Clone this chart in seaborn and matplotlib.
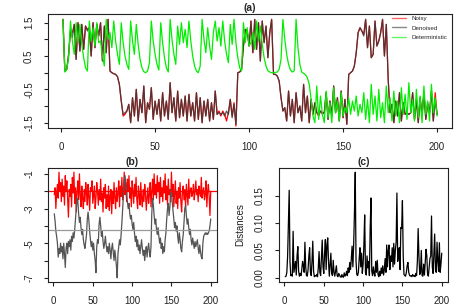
import numpy as np
import matplotlib
matplotlib.use("Agg")
import matplotlib.pyplot as plt
import seaborn as sns

# ─── data ──────────────────────────────────────────────────────────────────
t = np.arange(1, 201)

denoised = [
    1.60, 0.05, 0.10, 0.55, 1.30, 1.05, 1.45, 0.40, 1.50, 0.65,
    1.45, 0.70, 1.40, 1.25, 1.35, 0.50, 1.50, 0.75, 1.45, 1.10,
    1.50, 0.35, 1.40, 0.60, 1.60, 0.05, 0.00, -0.03, -0.05, -0.12,
    -0.35, -0.85, -1.25, -1.20, -1.15, -0.95, -1.50, -0.75, -1.30, -0.50,
    -1.45, -0.80, -1.20, -0.40, -1.50, -0.90, -1.10, -0.45, -1.40, -0.85,
    -1.25, -0.80, -1.45, -0.60, -1.30, -0.85, -1.40, -0.30, -1.20, -0.75,
    -1.45, -0.55, -1.35, -0.80, -1.30, -0.70, -1.45, -0.65, -1.30, -0.90,
    -1.45, -0.60, -1.40, -0.75, -1.50, -0.85, -1.30, -0.80, -1.45, -0.90,
    -1.40, -0.55, -1.25, -1.20, -1.25, -1.20, -1.30, -1.15, -1.25, -0.80,
    -1.35, -0.95, -1.55, 0.00, 0.02, 0.10, 0.80, 1.30, 1.25, 0.80,
    1.55, 0.60, 1.60, 0.70, 1.50, 0.35, 1.55, 0.90, 1.40, 0.45,
    1.20, 1.60, -0.05, -0.05, -0.10, -0.25, -0.75, -1.15, -1.05, -1.45,
    -0.55, -1.30, -0.80, -1.50, -0.60, -1.20, -1.00, -1.45, -0.35, -1.20,
    -0.70, -1.50, -0.80, -1.25, -0.90, -1.20, -1.25, -1.15, -1.25, -1.20,
    -0.60, -1.40, -0.85, -1.30, -0.40, -1.20, -0.75, -1.45, -0.55, -1.35,
    -0.80, -1.55, -0.05, 0.00, 0.05, 0.20, 0.60, 1.20, 1.35, 1.25,
    1.10, 1.60, 0.75, 1.40, 0.45, 0.55, 1.55, 0.80, 0.95, 1.20,
    1.60, 0.50, 1.45, -0.20, -1.20, -0.95, -1.50, -0.85, -1.30, -0.60,
    -1.45, -0.90, -1.25, -1.20, -1.25, -1.20, -0.60, -1.40, -0.80, -1.50,
    -0.75, -1.30, -0.60, -1.40, -0.90, -1.20, -0.55, -1.45, -0.85, -1.25,
]

noisy = [
    1.60, 0.05, 0.10, 0.55, 1.25, 1.20, 1.45, 0.40, 1.50, 0.65,
    1.45, 0.70, 1.40, 1.30, 1.35, 0.50, 1.50, 0.75, 1.45, 1.10,
    1.50, 0.35, 1.40, 0.60, 1.60, 0.05, 0.00, -0.03, -0.05, -0.12,
    -0.35, -0.85, -1.30, -1.25, -1.15, -0.95, -1.50, -0.75, -1.30, -0.50,
    -1.45, -0.80, -1.20, -0.40, -1.50, -0.90, -1.10, -0.45, -1.40, -0.85,
    -1.25, -0.80, -1.45, -0.60, -1.30, -0.85, -1.40, -0.30, -1.20, -0.75,
    -1.45, -0.55, -1.35, -0.80, -1.30, -0.70, -1.45, -0.65, -1.30, -0.90,
    -1.45, -0.60, -1.40, -0.75, -1.50, -0.85, -1.30, -0.80, -1.45, -0.90,
    -1.40, -0.55, -1.25, -1.15, -1.30, -1.15, -1.25, -1.45, -1.20, -0.80,
    -1.30, -0.90, -1.60, 0.00, 0.02, 0.10, 0.80, 1.30, 1.25, 0.80,
    1.55, 0.60, 1.60, 0.70, 1.50, 0.35, 1.55, 0.90, 1.40, 0.45,
    1.20, 1.60, -0.05, -0.05, -0.10, -0.25, -0.75, -1.15, -1.05, -1.45,
    -0.55, -1.30, -0.80, -1.50, -0.60, -1.20, -1.00, -1.45, -0.35, -1.20,
    -0.70, -1.50, -0.80, -1.25, -0.90, -1.20, -1.30, -1.15, -1.20, -1.20,
    -0.60, -1.40, -0.85, -1.30, -0.40, -1.20, -0.75, -1.45, -0.55, -1.35,
    -0.80, -1.55, -0.05, 0.00, 0.05, 0.20, 0.60, 1.20, 1.35, 1.25,
    1.15, 1.60, 0.75, 1.40, 0.45, 0.55, 1.55, 0.80, 0.95, 1.20,
    1.60, 0.50, 1.45, -0.20, -1.20, -0.95, -1.50, -0.85, -1.30, -0.60,
    -1.45, -0.90, -1.25, -1.20, -1.25, -1.20, -0.60, -1.40, -0.80, -1.50,
    -0.75, -1.30, -0.60, -1.40, -0.95, -1.20, -0.55, -1.45, -0.60, -1.25,
]

deterministic = [
    1.60, 0.02, 0.10, 0.45, 1.55, 0.95, 0.55, 1.50, 0.90, 1.45,
    0.85, 0.45, 0.15, 0.05, 1.55, 0.95, 1.35, 0.80, 1.50, 0.90,
    0.95, 0.50, 0.20, 1.60, 1.00, 1.20, 0.75, 1.55, 0.95, 0.55,
    0.25, 1.50, 0.90, 0.50, 0.25, 0.10, 1.55, 0.95, 0.55, 1.45,
    0.85, 0.40, 0.15, 0.03, 0.00, 0.05, 0.30, 1.55, 0.95, 0.55,
    0.25, 0.08, 1.50, 0.90, 0.45, 0.15, 0.02, 1.60, 1.00, 0.55,
    0.25, 1.40, 0.85, 1.50, 0.90, 1.30, 0.75, 1.55, 0.95, 0.50,
    0.20, 0.05, 0.00, 0.20, 1.60, 1.00, 0.60, 1.35, 0.80, 0.40,
    1.20, 1.55, 0.95, 1.35, 0.80, 1.55, 0.95, 0.55, 0.30, 1.45,
    0.85, 1.60, 0.90, 0.45, 0.15, 0.05, 1.50, 0.90, 1.35, 0.80,
    0.90, 1.20, 0.70, 1.55, 0.95, 1.40, 0.85, 0.45, 0.20, 0.06,
    0.02, 0.00, 0.00, 0.01, 0.02, 0.10, 0.40, 1.60, 1.00, 0.55,
    0.25, 0.08, 0.02, 0.05, 1.60, 0.75, 0.25, 0.02, -0.02, -0.06,
    -0.15, -0.35, -0.80, -1.30, -1.50, -0.40, -1.40, -0.70, -1.25, -1.50,
    -0.55, -1.35, -0.90, -1.50, -0.45, -1.20, -0.85, -1.45, -0.60, -1.30,
    -1.05, -1.20, -0.75, -1.25, -0.85, -1.15, -0.70, -1.30, -0.95, -1.20,
    -0.60, -1.40, -0.80, -1.50, -0.35, -1.25, -0.70, -1.45, -0.50, -1.35,
    -0.90, -1.50, -0.40, -1.20, -0.75, -1.45, -0.55, -1.30, -0.85, -1.50,
    -0.45, -1.25, -0.65, -1.40, -0.30, -1.20, -0.80, -1.45, -0.50, -1.35,
    -0.70, -1.50, -0.40, -1.25, -0.85, -1.45, -0.35, -1.20, -0.75, -1.30,
]

b_red = [
    -2.2, -1.8, -3.0, -2.1, -1.6, -2.4, -0.9, -2.0, -1.5, -2.6,
    -1.3, -2.3, -1.7, -2.8, -1.1, -2.0, -1.4, -2.5, -3.5, -1.9,
    -2.3, -1.6, -2.9, -1.2, -2.1, -0.9, -2.7, -1.8, -3.2, -2.0,
    -1.4, -2.5, -1.0, -2.2, -2.9, -1.7, -2.4, -3.0, -1.9, -2.6,
    -1.5, -2.1, -2.8, -1.6, -2.3, -3.1, -1.8, -2.0, -1.4, -2.7,
    -2.2, -1.7, -3.0, -2.4, -1.5, -2.0, -2.8, -1.9, -2.5, -1.3,
    -2.6, -2.1, -3.2, -1.8, -2.4, -1.6, -3.0, -2.2, -2.9, -1.7,
    -3.1, -2.3, -1.9, -3.3, -2.0, -2.7, -1.5, -2.4, -3.0, -1.8,
    -2.6, -2.1, -1.4, -2.9, -1.7, -2.3, -1.2, -2.5, -1.9, -0.9,
    -2.2, -1.5, -2.6, -1.3, -2.0, -1.1, -2.4, -1.8, -2.9, -1.4,
    -2.0, -2.7, -1.6, -2.3, -1.2, -2.5, -3.0, -1.7, -2.2, -2.8,
    -1.5, -2.4, -2.9, -1.9, -2.6, -1.6, -2.1, -3.1, -2.4, -1.8,
    -2.7, -2.2, -1.5, -2.9, -2.0, -1.3, -2.5, -1.0, -2.2, -1.6,
    -2.4, -1.1, -2.0, -1.5, -2.7, -1.2, -2.3, -1.8, -2.6, -1.4,
    -2.1, -1.0, -2.5, -1.7, -2.8, -1.3, -2.2, -1.9, -2.6, -0.9,
    -2.3, -1.6, -2.9, -2.1, -1.4, -2.7, -2.0, -3.0, -1.8, -2.4,
    -1.5, -2.6, -3.2, -2.0, -1.7, -2.5, -1.9, -2.9, -1.6, -2.2,
    -2.8, -1.3, -2.4, -2.0, -1.8, -2.3, -2.1, -1.6, -2.5, -2.0,
    -1.4, -2.2, -1.9, -2.6, -1.7, -2.1, -2.3, -1.2, -2.4, -2.0,
    -1.8, -2.5, -2.2, -1.4, -2.9, -2.0, -1.6, -2.3, -3.4, -2.0,
]

b_gray = [
    -3.3, -3.7, -4.3, -4.6, -5.0, -5.8, -5.3, -5.6, -5.0, -5.5,
    -5.2, -5.9, -5.0, -5.6, -6.4, -5.3, -5.0, -5.6, -4.9, -5.2,
    -4.8, -5.4, -4.6, -4.9, -4.4, -4.7, -4.2, -3.6, -3.0, -2.4,
    -2.6, -3.3, -3.8, -3.5, -4.1, -4.5, -4.2, -4.8, -5.1, -5.3,
    -4.9, -4.5, -3.6, -3.2, -3.7, -4.3, -4.8, -5.2, -4.9, -5.4,
    -5.0, -5.6, -6.0, -6.7, -5.2, -4.8, -5.0, -3.9, -3.5, -4.0,
    -4.6, -4.3, -4.9, -5.3, -5.0, -4.6, -5.1, -5.5, -5.2, -5.6,
    -5.0, -5.4, -5.9, -5.3, -5.0, -5.5, -6.0, -5.4, -5.8, -6.3,
    -7.0, -5.6, -5.2, -4.8, -5.1, -4.5, -3.8, -3.0, -2.2, -1.4,
    -1.1, -1.6, -2.2, -2.6, -3.0, -2.7, -3.3, -3.6, -3.4, -3.9,
    -4.2, -3.8, -4.4, -4.9, -4.6, -5.2, -4.8, -5.4, -5.1, -5.6,
    -5.2, -4.8, -5.3, -5.7, -5.4, -6.0, -5.5, -5.2, -5.8, -5.3,
    -5.0, -5.5, -5.8, -5.2, -3.3, -2.4, -2.8, -3.4, -3.9, -3.6,
    -4.2, -4.5, -4.1, -4.6, -5.0, -4.7, -5.3, -5.0, -5.6, -5.2,
    -5.5, -4.8, -4.4, -3.6, -3.0, -2.7, -3.4, -2.9, -2.2, -1.9,
    -2.6, -3.1, -3.6, -4.1, -3.8, -4.3, -4.0, -4.6, -5.0, -4.4,
    -4.8, -5.3, -5.5, -4.9, -4.5, -3.8, -3.0, -2.8, -3.4, -3.9,
    -3.6, -4.1, -4.5, -4.2, -4.8, -5.1, -4.7, -5.0, -5.3, -4.9,
    -5.2, -5.0, -4.8, -5.3, -5.6, -5.1, -5.5, -5.8, -5.9, -5.0,
    -4.6, -4.5, -4.4, -4.5, -4.4, -4.5, -4.4, -4.3, -4.0, -3.6,
]
b_red_level = -2.0
b_gray_level = -4.25

distances = [
    0.002, 0.003, 0.010, 0.040, 0.100, 0.160, 0.030, 0.004, 0.005, 0.003,
    0.085, 0.010, 0.020, 0.030, 0.005, 0.040, 0.057, 0.012, 0.003, 0.008,
    0.004, 0.015, 0.030, 0.022, 0.010, 0.065, 0.020, 0.004, 0.003, 0.015,
    0.040, 0.055, 0.010, 0.004, 0.030, 0.067, 0.012, 0.002, 0.004, 0.003,
    0.006, 0.002, 0.018, 0.048, 0.010, 0.004, 0.035, 0.069, 0.020, 0.008,
    0.045, 0.070, 0.015, 0.060, 0.073, 0.030, 0.003, 0.025, 0.045, 0.008,
    0.004, 0.032, 0.010, 0.003, 0.012, 0.022, 0.004, 0.002, 0.008, 0.005,
    0.002, 0.001, 0.006, 0.002, 0.001, 0.009, 0.003, 0.005, 0.012, 0.004,
    0.018, 0.010, 0.028, 0.015, 0.035, 0.058, 0.020, 0.060, 0.120, 0.193,
    0.030, 0.006, 0.004, 0.010, 0.035, 0.055, 0.020, 0.045, 0.008, 0.025,
    0.060, 0.115, 0.010, 0.005, 0.040, 0.018, 0.030, 0.004, 0.090, 0.146,
    0.012, 0.004, 0.020, 0.008, 0.003, 0.030, 0.010, 0.032, 0.006, 0.002,
    0.012, 0.004, 0.018, 0.008, 0.022, 0.005, 0.015, 0.035, 0.010, 0.060,
    0.020, 0.050, 0.060, 0.015, 0.040, 0.030, 0.055, 0.020, 0.063, 0.025,
    0.050, 0.065, 0.155, 0.030, 0.040, 0.055, 0.015, 0.092, 0.090, 0.141,
    0.040, 0.006, 0.004, 0.003, 0.010, 0.022, 0.028, 0.010, 0.005, 0.003,
    0.004, 0.002, 0.006, 0.003, 0.004, 0.002, 0.008, 0.004, 0.030, 0.090,
    0.040, 0.006, 0.010, 0.050, 0.004, 0.003, 0.025, 0.005, 0.030, 0.052,
    0.040, 0.006, 0.003, 0.020, 0.035, 0.040, 0.113, 0.020, 0.008, 0.045,
    0.080, 0.015, 0.010, 0.065, 0.030, 0.012, 0.064, 0.010, 0.025, 0.045,
]

x_ticks = [0, 50, 100, 150, 200]

# ─── style (R base-graphics look) ──────────────────────────────────────────
sns.set_theme(style="white")
plt.rcParams["font.family"] = ["Liberation Sans", "DejaVu Sans"]
plt.rcParams["axes.unicode_minus"] = False

TICK_FS = 7
LW = 0.8


def r_axes(ax, yticks, ylabels):
    for s in ax.spines.values():
        s.set_color("#222222")
        s.set_linewidth(LW)
    ax.set_xticks(x_ticks)
    ax.set_xticklabels([str(v) for v in x_ticks])
    ax.set_yticks(yticks)
    ax.set_yticklabels(ylabels, rotation=90, va="center")
    ax.tick_params(direction="out", length=3, width=LW, pad=7,
                   labelsize=TICK_FS, colors="#222222",
                   bottom=True, left=True)
    ax.set_xlim(-6.96, 207.96)
    ax.set_xlabel("")
    ax.set_ylabel("")


fig = plt.figure(figsize=(4.63, 3.07), dpi=100)

# (a) noisy / denoised / deterministic
ax = fig.add_axes([0.1037, 0.583, 0.8726, 0.3713])
sns.lineplot(x=t, y=noisy, color="red", lw=0.9, label="Noisy", ax=ax)
sns.lineplot(x=t, y=denoised, color="#3a3a3a", alpha=0.85, lw=0.9,
             label="Denoised", ax=ax)
sns.lineplot(x=t, y=deterministic, color="#00ee00", lw=0.9,
             label="Deterministic", ax=ax)
ax.set_ylim(-1.66, 1.76)
r_axes(ax, [-1.5, -1.0, -0.5, 0.0, 0.5, 1.0, 1.5],
       ["-1.5", "", "-0.5", "", "0.5", "", "1.5"])
ax.set_title("(a)", fontsize=7.5, fontweight="bold", pad=2)
leg = ax.legend(loc="upper left", bbox_to_anchor=(0.852, 0.985),
                frameon=False, fontsize=4.5, handlelength=2.2,
                handletextpad=0.9, labelspacing=0.65, borderpad=0,
                borderaxespad=0)
for h in leg.get_lines():
    h.set_linewidth(1.0)
    h.set_alpha(0.6)

# (b) log-scale diagnostics
ax = fig.add_axes([0.1037, 0.0814, 0.365, 0.3713])
sns.lineplot(x=t, y=b_red, color="red", lw=0.9, ax=ax)
sns.lineplot(x=t, y=b_gray, color="#555555", lw=0.9, ax=ax)
ax.axhline(b_red_level, color="red", lw=0.9)
ax.axhline(b_gray_level, color="#999999", lw=0.9)
ax.set_ylim(-7.24, -0.66)
r_axes(ax, [-7, -6, -5, -4, -3, -2, -1],
       ["-7", "", "-5", "", "-3", "", "-1"])
ax.set_title("(b)", fontsize=7.5, fontweight="bold", pad=2)

# (c) distances
ax = fig.add_axes([0.6026, 0.0814, 0.365, 0.3713])
sns.lineplot(x=t, y=distances, color="black", lw=0.9, ax=ax)
ax.set_ylim(-0.0077, 0.2007)
r_axes(ax, [0.0, 0.05, 0.10, 0.15], ["0.00", "0.05", "0.10", "0.15"])
ax.set_ylabel("Distances", fontsize=7, color="#222222")
ax.yaxis.set_label_coords(-0.20, 0.5)
ax.set_title("(c)", fontsize=7.5, fontweight="bold", pad=2)

fig.savefig("out.png", dpi=100)
